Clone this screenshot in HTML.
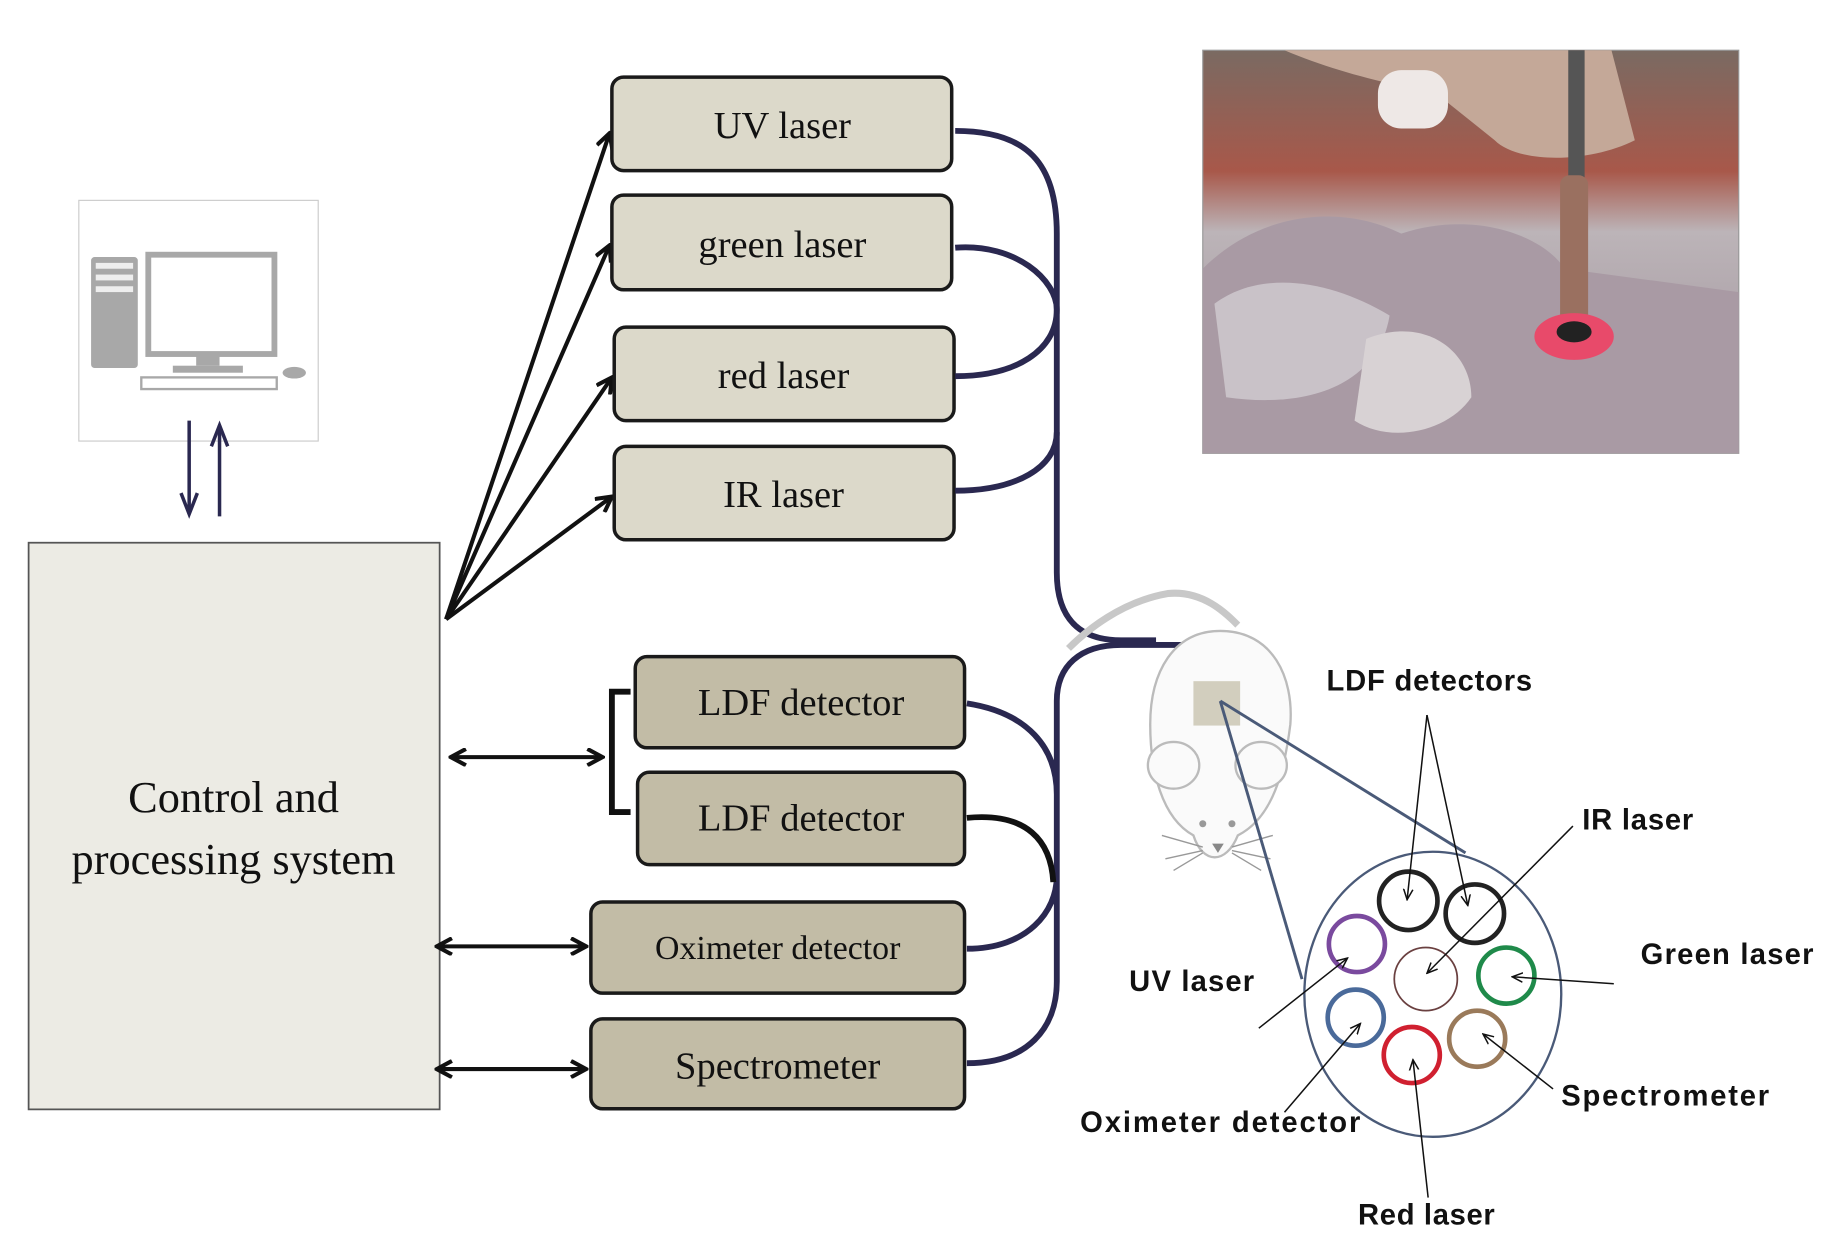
<!DOCTYPE html>
<html><head><meta charset="utf-8"><style>
html,body{margin:0;padding:0;background:#fff;width:1831px;height:1249px;overflow:hidden}
svg{display:block}
.ser{font-family:"Liberation Serif",serif;fill:#111}
.san{font-family:"Liberation Sans",sans-serif;font-weight:bold;fill:#111;font-size:25px}
</style></head><body>
<svg width="1831" height="1249" viewBox="0 0 1568 1069" preserveAspectRatio="none" xmlns="http://www.w3.org/2000/svg">
<defs>
<marker id="as" markerWidth="10" markerHeight="10" refX="9" refY="5" orient="auto" markerUnits="userSpaceOnUse"><path d="M0,1 L9,5 L0,9" fill="none" stroke="#111" stroke-width="1.3"/></marker>
<marker id="ab" markerWidth="16" markerHeight="16" refX="14" refY="8" orient="auto-start-reverse" markerUnits="userSpaceOnUse"><path d="M1,1 L14,8 L1,15" fill="none" stroke="#111" stroke-width="3.5"/></marker>
<linearGradient id="ph" x1="0" y1="0" x2="0" y2="1"><stop offset="0" stop-color="#7a6a62"/><stop offset="0.3" stop-color="#a8584a"/><stop offset="0.45" stop-color="#bcb4b8"/><stop offset="1" stop-color="#9c8e98"/></linearGradient>
</defs>

<!-- computer -->
<rect x="67.5" y="171.5" width="205" height="206" fill="#fff" stroke="#ccc"/>
<rect x="78" y="220" width="40" height="95" fill="#a8a8a8" rx="3"/>
<rect x="82" y="225" width="32" height="5" fill="#eee"/><rect x="82" y="235" width="32" height="5" fill="#eee"/><rect x="82" y="245" width="32" height="5" fill="#eee"/>
<rect x="127" y="218" width="108" height="85" fill="#fff" stroke="#a8a8a8" stroke-width="5"/>
<rect x="168" y="303" width="20" height="10" fill="#a8a8a8"/><rect x="148" y="313" width="60" height="6" fill="#a8a8a8"/>
<rect x="121" y="323" width="116" height="10" fill="#fff" stroke="#a8a8a8" stroke-width="2"/>
<ellipse cx="252" cy="319" rx="10" ry="5" fill="#a8a8a8"/>
<g stroke="#2a2850" stroke-width="3" fill="none">
<line x1="162" y1="360" x2="162" y2="440"/>
<path d="M155,422 L162,440 L169,422"/>
<line x1="188" y1="442" x2="188" y2="364"/>
<path d="M181,382 L188,364 L195,382"/>
</g>

<!-- control box -->
<rect x="24.5" y="464.5" width="352" height="485" fill="#ecebe4" stroke="#555" stroke-width="1.5"/>
<text class="ser" x="200" y="695" font-size="38" text-anchor="middle">Control and</text>
<text class="ser" x="200" y="748" font-size="38" text-anchor="middle">processing system</text>

<!-- fan arrows -->
<g stroke="#111" stroke-width="3.5" fill="none">
<line x1="382" y1="530" x2="522" y2="114" marker-end="url(#ab)"/>
<line x1="382" y1="530" x2="522" y2="210" marker-end="url(#ab)"/>
<line x1="382" y1="530" x2="524" y2="323" marker-end="url(#ab)"/>
<line x1="382" y1="530" x2="524" y2="425" marker-end="url(#ab)"/>
<line x1="386" y1="648" x2="516" y2="648" marker-start="url(#ab)" marker-end="url(#ab)"/>
<line x1="374" y1="810" x2="502" y2="810" marker-start="url(#ab)" marker-end="url(#ab)"/>
<line x1="374" y1="915" x2="502" y2="915" marker-start="url(#ab)" marker-end="url(#ab)"/>
<path d="M540,592 L524,592 L524,695 L540,695" stroke-width="5"/>
</g>

<!-- laser boxes -->
<g stroke="#1a1a1a" stroke-width="3" fill="#dcd9ca">
<rect x="524" y="66" width="291" height="80" rx="10"/>
<rect x="524" y="167" width="291" height="81" rx="10"/>
<rect x="526" y="280" width="291" height="80" rx="10"/>
<rect x="526" y="382" width="291" height="80" rx="10"/>
</g>
<g stroke="#1a1a1a" stroke-width="3" fill="#c2bca6">
<rect x="544" y="562" width="282" height="78" rx="10"/>
<rect x="546" y="661" width="280" height="79" rx="10"/>
<rect x="506" y="772" width="320" height="78" rx="10"/>
<rect x="506" y="872" width="320" height="77" rx="10"/>
</g>
<g class="ser" text-anchor="middle">
<text x="670" y="118" font-size="33">UV laser</text>
<text x="670" y="220" font-size="33">green laser</text>
<text x="671" y="332" font-size="33">red laser</text>
<text x="671" y="434" font-size="33">IR laser</text>
<text x="686" y="612" font-size="33">LDF detector</text>
<text x="686" y="711" font-size="33">LDF detector</text>
<text x="666" y="821" font-size="29">Oximeter detector</text>
<text x="666" y="923" font-size="33">Spectrometer</text>
</g>

<!-- cables -->
<g stroke="#2a2850" stroke-width="5" fill="none">
<path d="M818,112 C880,112 905,140 905,200 L905,490 C905,530 925,548 960,548 L990,548"/>
<path d="M818,212 C870,208 905,240 905,265 C905,300 870,322 818,322"/>
<path d="M818,420 C870,420 905,400 905,370"/>
<path d="M828,602 C880,610 905,640 905,680 M828,812 C880,812 905,780 905,750 M828,910 C880,910 905,880 905,840 L905,600 C905,570 925,552 960,552 L1030,552 C1042,552 1045,565 1045,600"/>
</g>
<path d="M828,700 C880,695 900,720 902,755" stroke="#111" stroke-width="5" fill="none"/>

<!-- mouse -->
<g stroke="#bbb" stroke-width="2" fill="#fafafa">
<path d="M915,555 C930,540 960,515 1000,508 C1030,505 1050,525 1060,535" fill="none" stroke="#c8c8c8" stroke-width="6"/>
<path d="M1045,540 C1090,540 1108,580 1105,620 C1100,660 1090,700 1060,715 C1050,740 1030,740 1022,715 C995,700 985,660 985,620 C985,575 1005,540 1045,540Z"/>
<ellipse cx="1005" cy="655" rx="22" ry="20"/>
<ellipse cx="1080" cy="655" rx="22" ry="20"/>
</g>
<rect x="1022" y="583" width="40" height="38" fill="#d2cebe"/>
<g stroke="#999" stroke-width="1.2" fill="none">
<path d="M1030,725 L995,715 M1030,728 L998,735 M1030,730 L1005,745 M1055,725 L1090,715 M1055,728 L1088,735 M1055,730 L1080,745"/>
</g>
<circle cx="1030" cy="705" r="3" fill="#999"/><circle cx="1055" cy="705" r="3" fill="#999"/>
<path d="M1038,722 L1048,722 L1043,730Z" fill="#888"/>

<!-- zoom lines -->
<g stroke="#4a5a78" stroke-width="2.5">
<line x1="1045" y1="600" x2="1115" y2="838"/>
<line x1="1045" y1="600" x2="1255" y2="730"/>
</g>

<!-- fiber bundle -->
<ellipse cx="1227" cy="851" rx="110" ry="122" fill="#fff" stroke="#4a5a78" stroke-width="2"/>
<g fill="none" stroke-width="4">
<circle cx="1206" cy="771" r="25" stroke="#222"/>
<circle cx="1263" cy="782" r="25" stroke="#222"/>
<circle cx="1162" cy="808" r="24" stroke="#7a4a9e"/>
<circle cx="1221" cy="838" r="27" stroke="#6a4040" stroke-width="1.5"/>
<circle cx="1290" cy="835" r="24" stroke="#1f8a4a"/>
<circle cx="1161" cy="871" r="24" stroke="#4a6a9a"/>
<circle cx="1209" cy="903" r="24" stroke="#d02030"/>
<circle cx="1265" cy="889" r="24" stroke="#9a7a5a"/>
</g>

<!-- label arrows -->
<g stroke="#111" stroke-width="1.3" marker-end="url(#as)">
<line x1="1222" y1="612" x2="1205" y2="770"/>
<line x1="1222" y1="612" x2="1257" y2="775"/>
<line x1="1347" y1="707" x2="1222" y2="833"/>
<line x1="1382" y1="842" x2="1295" y2="836"/>
<line x1="1078" y1="880" x2="1154" y2="820"/>
<line x1="1100" y1="952" x2="1165" y2="876"/>
<line x1="1223" y1="1025" x2="1210" y2="907"/>
<line x1="1330" y1="932" x2="1270" y2="885"/>
</g>
<g class="san">
<text x="1136" y="591" textLength="176">LDF detectors</text>
<text x="1355" y="710" textLength="95">IR laser</text>
<text x="1405" y="825" textLength="148">Green laser</text>
<text x="967" y="848" textLength="107">UV laser</text>
<text x="1337" y="946" textLength="178">Spectrometer</text>
<text x="925" y="969" textLength="240">Oximeter detector</text>
<text x="1163" y="1048" textLength="117">Red laser</text>
</g>

<!-- photo -->
<rect x="1030" y="43" width="459" height="345" fill="url(#ph)" stroke="#999"/>
<path d="M1030,230 C1080,180 1150,175 1200,200 C1260,180 1320,200 1340,230 L1489,250 L1489,388 L1030,388Z" fill="#a99aa4"/>
<path d="M1040,260 C1080,230 1140,240 1190,270 C1180,330 1120,350 1050,340Z" fill="#c9c2c8"/>
<path d="M1170,290 C1220,270 1260,300 1260,340 C1240,370 1190,380 1160,360Z" fill="#d8d2d4"/>
<path d="M1100,43 C1180,43 1340,43 1380,43 L1400,120 C1360,140 1300,140 1280,120 L1230,80 C1180,70 1140,60 1100,43Z" fill="#c4a898"/>
<rect x="1180" y="60" width="60" height="50" rx="20" fill="#eee8e6"/>
<rect x="1343" y="43" width="14" height="150" fill="#555"/>
<rect x="1336" y="150" width="24" height="130" rx="8" fill="#9a7060"/>
<ellipse cx="1348" cy="288" rx="34" ry="20" fill="#e84a6a"/>
<ellipse cx="1348" cy="284" rx="15" ry="9" fill="#222"/>
</svg>
</body></html>
